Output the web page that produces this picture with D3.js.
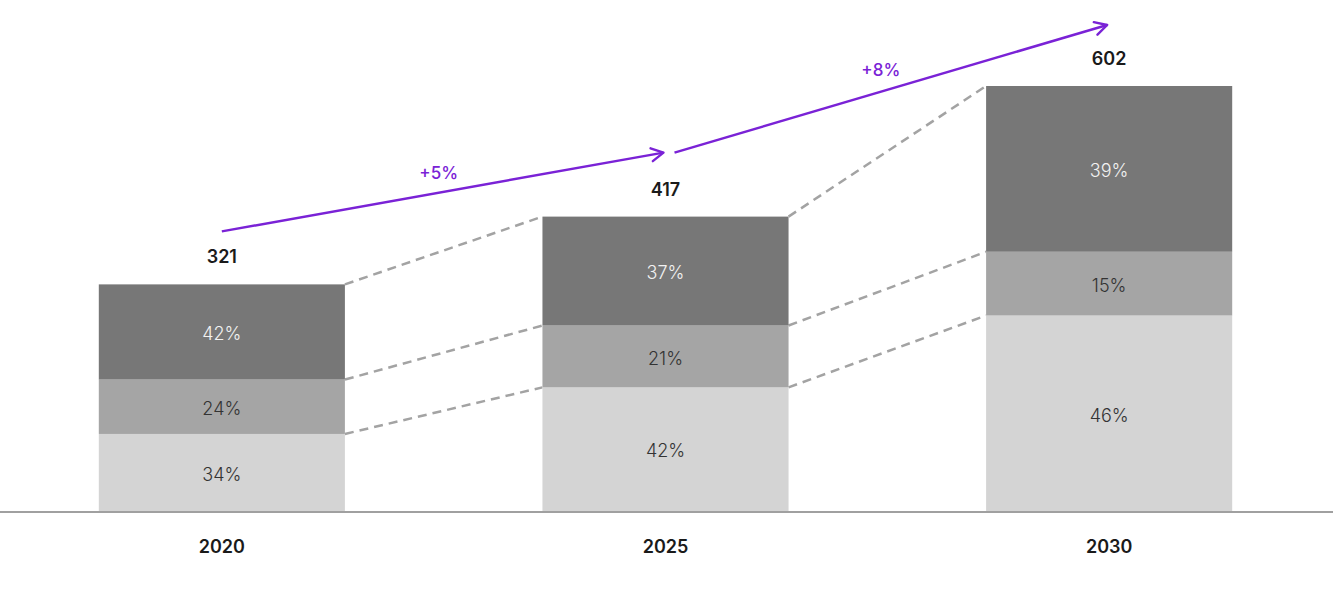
<!DOCTYPE html>
<html><head><meta charset="utf-8">
<script src="https://cdn.jsdelivr.net/npm/d3@7"></script>
<style>body{margin:0;background:#fff}svg{display:block;font-family:Inter,"Noto Sans",sans-serif}</style>
</head><body><svg id="c" width="1333" height="600"></svg>
<script>
const years = ["2020", "2025", "2030"];
const totals = [321, 417, 602];
const shareLow = [34, 42, 46];
const shareMid = [24, 21, 15];
const shareHigh = [42, 37, 39];
const growth = ["+5%", "+8%"];

const svg = d3.select("#c");
const colors = ["#d4d4d4", "#a5a5a5", "#777777"];
const textColors = ["#333333", "#333333", "#f2f2f2"];
const purple = "#7a22d6";

const x = d3.scaleBand().domain(years).range([0, 1331]).paddingInner(0.4453).paddingOuter(0.2227);
const y = d3.scaleLinear().domain([0, 602]).range([511, 86]);

const shares = [shareLow, shareMid, shareHigh];
const segs = [];
years.forEach((yr, i) => {
  let cum = 0;
  shares.forEach((s, k) => {
    const v0 = totals[i] * cum / 100;
    cum += s[i];
    const v1 = totals[i] * cum / 100;
    segs.push({yr, i, k, v0, v1, pct: s[i]});
  });
});

const conn = [];
for (let i = 0; i < years.length - 1; i++) {
  let c0 = 0, c1 = 0;
  shares.forEach((s, k) => {
    c0 += s[i]; c1 += s[i + 1];
    conn.push({x1: x(years[i]) + x.bandwidth(), y1: y(totals[i] * c0 / 100), x2: x(years[i + 1]), y2: y(totals[i + 1] * c1 / 100)});
  });
}
svg.selectAll("line.conn").data(conn).join("line").attr("class", "conn")
  .attr("x1", d => d.x1).attr("y1", d => d.y1).attr("x2", d => d.x2).attr("y2", d => d.y2)
  .attr("stroke", "#a3a3a3").attr("stroke-width", 2.5).attr("stroke-dasharray", "9,6");

svg.selectAll("rect.seg").data(segs).join("rect").attr("class", "seg")
  .attr("x", d => x(d.yr)).attr("width", x.bandwidth())
  .attr("y", d => y(d.v1)).attr("height", d => y(d.v0) - y(d.v1))
  .attr("fill", d => colors[d.k]);

svg.selectAll("text.pct").data(segs).join("text").attr("class", "pct")
  .attr("x", d => x(d.yr) + x.bandwidth() / 2)
  .attr("y", d => (y(d.v0) + y(d.v1)) / 2 + 2)
  .attr("dy", "0.35em").attr("text-anchor", "middle")
  .attr("font-size", 18).attr("font-weight", 300).attr("fill", d => textColors[d.k])
  .text(d => d.pct + "%");

svg.append("line").attr("x1", 0).attr("x2", 1333).attr("y1", y(0) + 1).attr("y2", y(0) + 1)
  .attr("stroke", "#a0a0a0").attr("stroke-width", 2);

svg.selectAll("text.yr").data(years).join("text").attr("class", "yr")
  .attr("x", d => x(d) + x.bandwidth() / 2).attr("y", 553)
  .attr("text-anchor", "middle").attr("font-size", 18).attr("font-weight", 600).attr("fill", "#1a1a1a")
  .text(d => d);

svg.selectAll("text.tot").data(totals).join("text").attr("class", "tot")
  .attr("x", (d, i) => x(years[i]) + x.bandwidth() / 2).attr("y", d => y(d) - 21)
  .attr("text-anchor", "middle").attr("font-size", 18).attr("font-weight", 600).attr("fill", "#1a1a1a")
  .text(d => d);

svg.append("defs").append("marker").attr("id", "arr")
  .attr("viewBox", "0 0 16 16").attr("refX", 14).attr("refY", 8)
  .attr("markerWidth", 16).attr("markerHeight", 16).attr("markerUnits", "userSpaceOnUse")
  .attr("orient", "auto")
  .append("path").attr("d", "M2,1.5 L14,8 L2,14.5").attr("fill", "none")
  .attr("stroke", purple).attr("stroke-width", 2.4).attr("stroke-linecap", "round").attr("stroke-linejoin", "round");

const arrows = growth.map((g, i) => ({
  g,
  x1: x(years[i]) + x.bandwidth() / 2 + (i === 0 ? 0 : 9),
  y1: y(totals[i]) - (i === 0 ? 53 : 64),
  x2: x(years[i + 1]) + x.bandwidth() / 2 - 2,
  y2: y(totals[i + 1]) - (i === 0 ? 64 : 61)
}));
svg.selectAll("line.arr").data(arrows).join("line").attr("class", "arr")
  .attr("x1", d => d.x1).attr("y1", d => d.y1).attr("x2", d => d.x2).attr("y2", d => d.y2)
  .attr("stroke", purple).attr("stroke-width", 2.5).attr("marker-end", "url(#arr)");
svg.selectAll("text.gr").data(arrows).join("text").attr("class", "gr")
  .attr("x", (d, i) => (d.x1 + d.x2) / 2 - (i === 0 ? 4 : 10)).attr("y", d => (d.y1 + d.y2) / 2 - 13)
  .attr("text-anchor", "middle").attr("font-size", 17).attr("font-weight", 500).attr("fill", purple)
  .text(d => d.g);
</script></body></html>
